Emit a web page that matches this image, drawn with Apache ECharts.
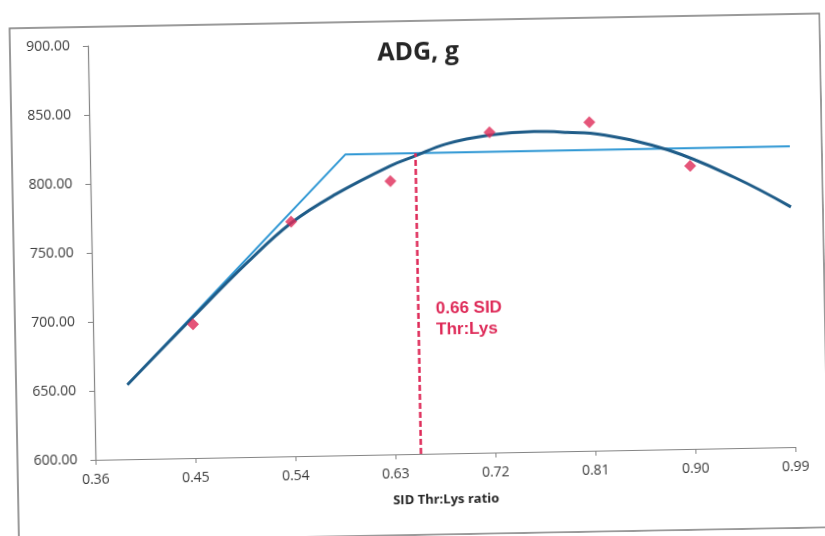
<!DOCTYPE html>
<html>
<head>
<meta charset="utf-8">
<title>ADG, g</title>
<script src="https://cdn.jsdelivr.net/npm/echarts@6/dist/echarts.min.js"></script>
<style>
	* {
		margin: 0;
		padding: 0;
	}
	body {
		background: #fff;
		overflow: hidden;
	}
	#main {
		width: 825px;
		height: 536px;
		transform: rotate(-1.05deg); /* the scan is a little crooked */
		transform-origin: 50% 50%;
	}
</style>
</head>
<body>
<div id="main"></div>
<script>
	// observed points (red diamonds)
	let ratioX = [0.45, 0.54, 0.63, 0.72, 0.81, 0.90];
	let adgY = [697, 770, 798, 832, 838, 805];

	// quadratic fit
	let quadX = [0.39, 0.45, 0.50, 0.54, 0.58, 0.63, 0.653, 0.68, 0.72, 0.76, 0.79, 0.82, 0.88, 0.94, 0.99];
	let quadY = [654, 702, 741, 769, 789, 809, 816, 824, 830, 832, 831, 829, 817, 796, 774];

	// broken-line fit
	let brokenX = [0.39, 0.59, 0.99];
	let brokenY = [654, 818, 818];

	// breakpoint marker
	let breakX = 0.653;
	let breakY = [600, 818];
	let breakText = ['0.66 SID', 'Thr:Lys'];

	let xTicks = [0.36, 0.99, 0.09];   // min, max, step
	let yTicks = [600, 900, 50];

	let myChart = echarts.init(document.getElementById('main'));
	let pair = (xs, ys) => xs.map((x, i) => [x, ys[i]]);

	let option = {
		backgroundColor: '#fff',
		animation: false,
		title: {
			text: 'ADG, g',
			left: 422,
			top: 40,
			textAlign: 'center',
			padding: 0,
			textStyle: {
				fontFamily: 'Open Sans',
				fontSize: 25,
				fontWeight: 'bold',
				color: '#262626'
			}
		},
		grid: {
			left: 92,
			right: 33,
			top: 40,
			bottom: 82
		},
		xAxis: {
			type: 'value',
			min: xTicks[0],
			max: xTicks[1],
			interval: xTicks[2],
			name: 'SID Thr:Lys ratio',
			nameLocation: 'middle',
			nameGap: 40,
			nameTextStyle: {
				fontFamily: 'Open Sans',
				fontSize: 13,
				fontWeight: 'bold',
				color: '#262626'
			},
			axisLine: {
				lineStyle: { color: '#858585', width: 1.2 }
			},
			axisTick: {
				show: true,
				length: 5,
				lineStyle: { color: '#858585' }
			},
			axisLabel: {
				margin: 13,
				fontFamily: 'Open Sans',
				fontSize: 14,
				color: '#3a3a3a',
				formatter: v => v.toFixed(2)
			},
			splitLine: { show: false }
		},
		yAxis: {
			type: 'value',
			min: yTicks[0],
			max: yTicks[1],
			interval: yTicks[2],
			axisLine: {
				show: true,
				lineStyle: { color: '#858585', width: 1.2 }
			},
			axisTick: {
				show: true,
				length: 5,
				lineStyle: { color: '#858585' }
			},
			axisLabel: {
				margin: 18,
				fontFamily: 'Open Sans',
				fontSize: 14,
				color: '#3a3a3a',
				formatter: v => v.toFixed(2)
			},
			splitLine: { show: false }
		},
		graphic: [
			{
				type: 'rect',
				shape: { x: 14, y: 21, width: 810, height: 514 },
				style: { fill: 'none', stroke: '#7a7a7a', lineWidth: 1.5 },
				silent: true
			},
			{
				type: 'text',
				x: 435,
				y: 299,
				style: {
					text: breakText.join('\n'),
					font: 'bold 17px "Liberation Sans"',
					fill: '#DE2A58',
					lineHeight: 21
				}
			}
		],
		series: [
			{
				name: 'broken',
				type: 'line',
				data: pair(brokenX, brokenY),
				symbol: 'none',
				lineStyle: { color: '#2E97D4', width: 2 },
				z: 2
			},
			{
				name: 'quadratic',
				type: 'line',
				data: pair(quadX, quadY),
				smooth: 0.4,
				symbol: 'none',
				lineStyle: { color: '#1F5C88', width: 3 },
				z: 3
			},
			{
				name: 'breakpoint',
				type: 'line',
				data: breakY.map(y => [breakX, y]),
				symbol: 'none',
				lineStyle: { color: '#DE2A58', width: 2.5, type: [6, 3] },
				z: 4
			},
			{
				name: 'ADG',
				type: 'scatter',
				data: pair(ratioX, adgY),
				symbol: 'diamond',
				symbolSize: 12,
				itemStyle: { color: '#DE2A58' },
				z: 5
			}
		]
	};
	myChart.setOption(option);
</script>
</body>
</html>
